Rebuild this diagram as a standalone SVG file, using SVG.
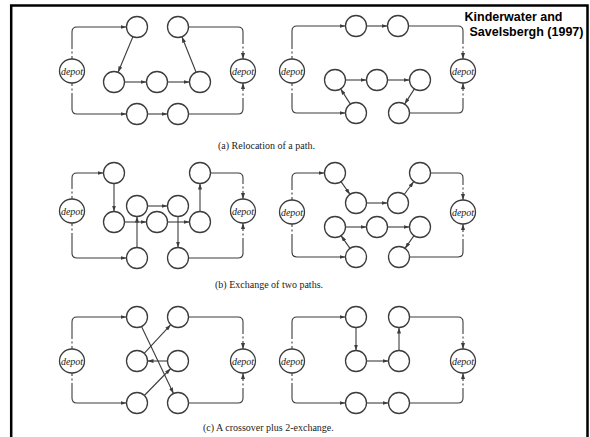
<svg xmlns="http://www.w3.org/2000/svg" width="590" height="437" viewBox="0 0 590 437">
<style>
.bg{fill:#fff}
.frame{fill:none;stroke:#000;stroke-width:2.5}
.n{fill:#fff;stroke:#3c3c3c;stroke-width:1.3}
.d{fill:#fff;stroke:#3c3c3c;stroke-width:1.3}
.dl{font-family:"Liberation Serif",serif;font-style:italic;font-size:10px;fill:#222;text-anchor:middle}
.e{fill:none;stroke:#3c3c3c;stroke-width:1.1;marker-end:url(#ah)}
.os{fill:none;stroke:#3c3c3c;stroke-width:1.1;marker-end:url(#ah);stroke-dasharray:3 2.5 2 2.5 500}
.is{fill:none;stroke:#3c3c3c;stroke-width:1.1;marker-start:url(#ah);stroke-dasharray:8 2.5 2 2.5 500}
.cap{font-family:"Liberation Serif",serif;font-size:10px;fill:#222}
.title{font-family:"Liberation Sans",Arial,sans-serif;font-weight:bold;font-size:12.5px;fill:#000}
</style>
<defs>
<marker id="ah" viewBox="0 0 6 4" refX="6" refY="2" markerWidth="6" markerHeight="4" markerUnits="userSpaceOnUse" orient="auto-start-reverse">
<path d="M0,0 L6,2 L0,4 z" fill="#3c3c3c"/>
</marker>
</defs>
<rect class="bg" x="0" y="0" width="590" height="437"/>
<path class="frame" d="M11.2,445 V5.5 H587.5 V445"/>

<g id="connectors">
<!-- panel a left -->
<path class="os" d="M72,59 V32 Q72,27 77,27 H126.5"/>
<path class="e" d="M132.9,36.7 L118.1,72.3"/>
<path class="e" d="M124.5,82 H146.5"/>
<path class="e" d="M167.5,82 H189.5"/>
<path class="e" d="M196.1,72.25 L181.9,36.75"/>
<path class="is" d="M243,59 V32 Q243,27 238,27 H188.5"/>
<path class="os" d="M72,83 V109 Q72,114 77,114 H126.5"/>
<path class="e" d="M147.5,114 H167.5"/>
<path class="is" d="M243,83 V109 Q243,114 238,114 H188.5"/>
<!-- panel a right -->
<path class="os" d="M292,59 V31 Q292,26 297,26 H345.5"/>
<path class="e" d="M366.5,26 H387.5"/>
<path class="is" d="M463,59 V31 Q463,26 458,26 H408.5"/>
<path class="os" d="M292,83 V108 Q292,113 297,113 H345.5"/>
<path class="e" d="M350.4,104.1 L340.6,88.9"/>
<path class="e" d="M345.5,80 H366.5"/>
<path class="e" d="M387.5,80 H409.5"/>
<path class="e" d="M414.4,88.9 L404.6,104.1"/>
<path class="is" d="M463,83 V108 Q463,113 458,113 H409.5"/>
<!-- panel b left -->
<path class="os" d="M72,199 V178 Q72,173 77,173 H103.5"/>
<path class="e" d="M114,183.5 V211.5"/>
<path class="e" d="M124.5,222 H146.5"/>
<path class="e" d="M167.5,222 H189.5"/>
<path class="e" d="M200,211.5 V183.5"/>
<path class="is" d="M243,199 V178 Q243,173 238,173 H210.5"/>
<path class="os" d="M72,223 V253 Q72,258 77,258 H126.5"/>
<path class="e" d="M137,247.5 V216.5"/>
<path class="e" d="M147.5,206 H167.5"/>
<path class="e" d="M178,216.5 V247.5"/>
<path class="is" d="M243,223 V253 Q243,258 238,258 H188.5"/>
<!-- panel b right -->
<path class="os" d="M292,200 V178 Q292,173 297,173 H324.5"/>
<path class="e" d="M341,181.6 L350,194.4"/>
<path class="e" d="M366.5,203 H387.5"/>
<path class="e" d="M404.2,194.5 L413.8,181.5"/>
<path class="is" d="M463,200 V178 Q463,173 458,173 H430.5"/>
<path class="os" d="M292,224 V252 Q292,257 297,257 H345.5"/>
<path class="e" d="M350,248.4 L341,235.6"/>
<path class="e" d="M345.5,227 H366.5"/>
<path class="e" d="M387.5,227 H409.5"/>
<path class="e" d="M414,235.6 L405,248.4"/>
<path class="is" d="M463,224 V252 Q463,257 458,257 H409.5"/>
<!-- panel c left -->
<path class="os" d="M72,349 V322 Q72,317 77,317 H126.5"/>
<path class="e" d="M141.5,326.5 L173.5,393.5"/>
<path class="e" d="M144.2,353.3 L170.8,324.7"/>
<path class="e" d="M167.5,361 H147.5"/>
<path class="e" d="M144.3,395.5 L170.7,368.5"/>
<path class="is" d="M243,349 V322 Q243,317 238,317 H188.5"/>
<path class="os" d="M72,373 V398 Q72,403 77,403 H126.5"/>
<path class="is" d="M243,373 V398 Q243,403 238,403 H188.5"/>
<!-- panel c right -->
<path class="os" d="M292,349 V322 Q292,317 297,317 H345.5"/>
<path class="e" d="M356,327.5 V350.5"/>
<path class="e" d="M366.5,361 H388.5"/>
<path class="e" d="M399,350.5 V327.5"/>
<path class="is" d="M463,349 V322 Q463,317 458,317 H409.5"/>
<path class="os" d="M292,373 V398 Q292,403 297,403 H345.5"/>
<path class="e" d="M366.5,403 H388.5"/>
<path class="is" d="M463,373 V398 Q463,403 458,403 H409.5"/>
</g>

<!-- panel a left nodes -->
<g id="a1-depot-l"><ellipse class="d" cx="72" cy="71" rx="12.5" ry="12"/><text class="dl" x="72" y="74.5">depot</text></g>
<g id="a1-t1"><circle class="n" cx="137" cy="27" r="10.5"/></g>
<g id="a1-t2"><circle class="n" cx="178" cy="27" r="10.5"/></g>
<g id="a1-m1"><circle class="n" cx="114" cy="82" r="10.5"/></g>
<g id="a1-m2"><circle class="n" cx="157" cy="82" r="10.5"/></g>
<g id="a1-m3"><circle class="n" cx="200" cy="82" r="10.5"/></g>
<g id="a1-b1"><circle class="n" cx="137" cy="114" r="10.5"/></g>
<g id="a1-b2"><circle class="n" cx="178" cy="114" r="10.5"/></g>
<g id="a1-depot-r"><ellipse class="d" cx="243" cy="71" rx="12.5" ry="12"/><text class="dl" x="243" y="74.5">depot</text></g>

<!-- panel a right nodes -->
<g id="a2-depot-l"><ellipse class="d" cx="292" cy="71" rx="12.5" ry="12"/><text class="dl" x="292" y="74.5">depot</text></g>
<g id="a2-t1"><circle class="n" cx="356" cy="26" r="10.5"/></g>
<g id="a2-t2"><circle class="n" cx="398" cy="26" r="10.5"/></g>
<g id="a2-m1"><circle class="n" cx="335" cy="80" r="10.5"/></g>
<g id="a2-m2"><circle class="n" cx="377" cy="80" r="10.5"/></g>
<g id="a2-m3"><circle class="n" cx="420" cy="80" r="10.5"/></g>
<g id="a2-b1"><circle class="n" cx="356" cy="113" r="10.5"/></g>
<g id="a2-b2"><circle class="n" cx="399" cy="113" r="10.5"/></g>
<g id="a2-depot-r"><ellipse class="d" cx="463" cy="71" rx="12.5" ry="12"/><text class="dl" x="463" y="74.5">depot</text></g>

<!-- panel b left nodes -->
<g id="b1-depot-l"><ellipse class="d" cx="72" cy="211" rx="12.5" ry="12"/><text class="dl" x="72" y="214.5">depot</text></g>
<g id="b1-a"><circle class="n" cx="114" cy="173" r="10.5"/></g>
<g id="b1-b"><circle class="n" cx="114" cy="222" r="10.5"/></g>
<g id="b1-c"><circle class="n" cx="137" cy="206" r="10.5"/></g>
<g id="b1-d"><circle class="n" cx="157" cy="222" r="10.5"/></g>
<g id="b1-e"><circle class="n" cx="178" cy="206" r="10.5"/></g>
<g id="b1-f"><circle class="n" cx="200" cy="173" r="10.5"/></g>
<g id="b1-g"><circle class="n" cx="200" cy="222" r="10.5"/></g>
<g id="b1-h"><circle class="n" cx="137" cy="258" r="10.5"/></g>
<g id="b1-i"><circle class="n" cx="178" cy="258" r="10.5"/></g>
<g id="b1-depot-r"><ellipse class="d" cx="243" cy="211" rx="12.5" ry="12"/><text class="dl" x="243" y="214.5">depot</text></g>

<!-- panel b right nodes -->
<g id="b2-depot-l"><ellipse class="d" cx="292" cy="212" rx="12.5" ry="12"/><text class="dl" x="292" y="215.5">depot</text></g>
<g id="b2-p1"><circle class="n" cx="335" cy="173" r="10.5"/></g>
<g id="b2-p2"><circle class="n" cx="356" cy="203" r="10.5"/></g>
<g id="b2-p3"><circle class="n" cx="398" cy="203" r="10.5"/></g>
<g id="b2-p4"><circle class="n" cx="420" cy="173" r="10.5"/></g>
<g id="b2-q1"><circle class="n" cx="335" cy="227" r="10.5"/></g>
<g id="b2-q2"><circle class="n" cx="377" cy="227" r="10.5"/></g>
<g id="b2-q3"><circle class="n" cx="420" cy="227" r="10.5"/></g>
<g id="b2-r1"><circle class="n" cx="356" cy="257" r="10.5"/></g>
<g id="b2-r2"><circle class="n" cx="399" cy="257" r="10.5"/></g>
<g id="b2-depot-r"><ellipse class="d" cx="463" cy="212" rx="12.5" ry="12"/><text class="dl" x="463" y="215.5">depot</text></g>

<!-- panel c left nodes -->
<g id="c1-depot-l"><ellipse class="d" cx="72" cy="361" rx="12.5" ry="12"/><text class="dl" x="72" y="364.5">depot</text></g>
<g id="c1-t1"><circle class="n" cx="137" cy="317" r="10.5"/></g>
<g id="c1-t2"><circle class="n" cx="178" cy="317" r="10.5"/></g>
<g id="c1-m1"><circle class="n" cx="137" cy="361" r="10.5"/></g>
<g id="c1-m2"><circle class="n" cx="178" cy="361" r="10.5"/></g>
<g id="c1-b1"><circle class="n" cx="137" cy="403" r="10.5"/></g>
<g id="c1-b2"><circle class="n" cx="178" cy="403" r="10.5"/></g>
<g id="c1-depot-r"><ellipse class="d" cx="243" cy="361" rx="12.5" ry="12"/><text class="dl" x="243" y="364.5">depot</text></g>

<!-- panel c right nodes -->
<g id="c2-depot-l"><ellipse class="d" cx="292" cy="361" rx="12.5" ry="12"/><text class="dl" x="292" y="364.5">depot</text></g>
<g id="c2-t1"><circle class="n" cx="356" cy="317" r="10.5"/></g>
<g id="c2-t2"><circle class="n" cx="399" cy="317" r="10.5"/></g>
<g id="c2-m1"><circle class="n" cx="356" cy="361" r="10.5"/></g>
<g id="c2-m2"><circle class="n" cx="399" cy="361" r="10.5"/></g>
<g id="c2-b1"><circle class="n" cx="356" cy="403" r="10.5"/></g>
<g id="c2-b2"><circle class="n" cx="399" cy="403" r="10.5"/></g>
<g id="c2-depot-r"><ellipse class="d" cx="463" cy="361" rx="12.5" ry="12"/><text class="dl" x="463" y="364.5">depot</text></g>

<g id="captions">
<text class="cap" x="218" y="148.5">(a) Relocation of a path.</text>
<text class="cap" x="215" y="287.5">(b) Exchange of two paths.</text>
<text class="cap" x="203" y="430.5">(c) A crossover plus 2-exchange.</text>
</g>
<g id="title">
<text class="title" x="464.5" y="20.5">Kinderwater and</text>
<text class="title" x="469.5" y="36">Savelsbergh (1997)</text>
</g>
</svg>
